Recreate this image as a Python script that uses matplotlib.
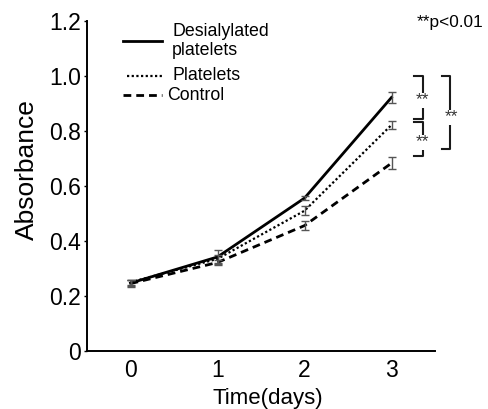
import matplotlib
matplotlib.use("Agg")
import matplotlib.pyplot as plt
from matplotlib.lines import Line2D

plt.rcParams['font.family'] = ['Liberation Sans', 'DejaVu Sans']

days = [0, 1, 2, 3]
desialylated = [0.247, 0.342, 0.556, 0.922]
desialylated_err = [0.010, 0.025, 0.008, 0.020]
platelets = [0.250, 0.335, 0.510, 0.822]
platelets_err = [0.010, 0.015, 0.016, 0.015]
control = [0.245, 0.322, 0.456, 0.683]
control_err = [0.012, 0.010, 0.016, 0.022]
labels = ["Desialylated\nplatelets", "Platelets", "Control"]
yticks = [0, 0.2, 0.4, 0.6, 0.8, 1.0, 1.2]
ytick_labels = ["0", "0.2", "0.4", "0.6", "0.8", "1.0", "1.2"]

W, H = 488, 409
fig = plt.figure(figsize=(W / 100, H / 100), dpi=100)
L, R, B, T = 87, 435, 351, 21
ax = fig.add_axes([L / W, (H - B) / H, (R - L) / W, (B - T) / H])

def px(x, y):
    return (x - L) / (R - L), (B - y) / (B - T)

styles = [
    dict(ls='-', lw=2.0),
    dict(ls=(0, (1, 1.1)), lw=1.6),
    dict(ls=(0, (2.8, 1.8)), lw=2.0),
]
series = [(desialylated, desialylated_err), (platelets, platelets_err), (control, control_err)]
for (vals, err), st in zip(series, styles):
    ax.plot(days, vals, color='black', zorder=2, **st)
    ax.errorbar(days, vals, yerr=err, fmt='none', ecolor='#555555',
                elinewidth=1.0, capsize=2.9, capthick=1.0, zorder=3)

ax.set_xlim(-0.5, 3.5)
ax.set_ylim(0, 1.2)
ax.set_xticks(days)
ax.set_xticklabels([str(d) for d in days])
ax.set_yticks(yticks)
ax.set_yticklabels(ytick_labels)
ax.tick_params(axis='x', length=0, pad=5.5, labelsize=16.5)
ax.tick_params(axis='y', direction='out', length=2.2, width=1.0, pad=2, labelsize=16.5)
for s in ['top', 'right']:
    ax.spines[s].set_visible(False)
for s in ['left', 'bottom']:
    ax.spines[s].set_linewidth(1.4)

ax.set_ylabel("Absorbance", fontsize=19)
ax.yaxis.set_label_coords(*px(38.5, 170))
ax.set_xlabel("Time(days)", fontsize=16)
ax.xaxis.set_label_coords(*px(268, 388))

# legend (manual)
leg_rows = [((123, 162), 41, 172, 41), ((127, 162), 76, 172, 75), ((123, 162), 95, 167, 95)]
for (xr, ly, tx, ty), st, lab in zip(leg_rows, styles, labels):
    x0, y0 = px(xr[0], ly)
    x1, _ = px(xr[1], ly)
    ax.add_line(Line2D([x0, x1], [y0, y0], transform=ax.transAxes, color='black',
                       clip_on=False, **st))
    tx_, ty_ = px(tx, ty)
    ax.text(tx_, ty_, lab, transform=ax.transAxes, ha='left', va='center',
            fontsize=12.8, linespacing=1.2)

# p value note
ax.text(*px(417, 23), "**p<0.01", transform=ax.transAxes, ha='left', va='center', fontsize=12.4)

# significance brackets
def bracket(x0, x1, ytop, ybot, tx, ty):
    a = px(x0, ytop); b = px(x1, ytop); c = px(x1, ybot); d = px(x0, ybot)
    ax.add_line(Line2D([a[0], b[0], c[0], d[0]], [a[1], b[1], c[1], d[1]],
                       transform=ax.transAxes, color='#1a1a1a', lw=1.5, clip_on=False))
    ax.text(*px(tx, ty), "**", transform=ax.transAxes, ha='center', va='center',
            fontsize=12.5, color='#333333',
            bbox=dict(boxstyle='square,pad=0.0', fc='white', ec='none'))

bracket(414, 423, 76, 119, 422, 100)
bracket(414, 423, 122, 156, 422, 142)
bracket(442, 450, 76, 149, 451, 117)

fig.savefig("out.png", dpi=100)
